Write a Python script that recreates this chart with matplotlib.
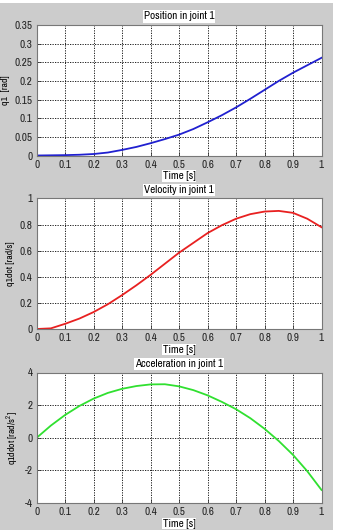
import matplotlib
matplotlib.use("Agg")
import matplotlib.pyplot as plt
from matplotlib.patches import Rectangle

plt.rcParams['font.family'] = ['Archivo Narrow', 'Liberation Sans', 'DejaVu Sans']
plt.rcParams['mathtext.fontset'] = 'custom'
plt.rcParams['mathtext.rm'] = 'Archivo Narrow'

time = [0.0, 0.05, 0.1, 0.15, 0.2, 0.25, 0.3, 0.35, 0.4, 0.45, 0.5,
        0.55, 0.6, 0.65, 0.7, 0.75, 0.8, 0.85, 0.9, 0.95, 1.0]
position = [0.0, 0.0005, 0.001, 0.002, 0.004, 0.008, 0.015, 0.023, 0.033, 0.044, 0.056,
            0.071, 0.089, 0.108, 0.129, 0.152, 0.176, 0.2, 0.222, 0.242, 0.262]
velocity = [0.0, 0.005, 0.04, 0.08, 0.13, 0.19, 0.26, 0.335, 0.415, 0.5, 0.585,
            0.66, 0.735, 0.795, 0.845, 0.88, 0.9, 0.905, 0.89, 0.845, 0.78]
acceleration = [0.0, 0.75, 1.4, 1.95, 2.4, 2.75, 3.0, 3.17, 3.27, 3.28, 3.15,
                2.92, 2.6, 2.2, 1.75, 1.2, 0.55, -0.2, -1.05, -2.05, -3.2]

titles = ["Position in joint 1", "Velocity in joint 1", "Acceleration in joint 1"]
ylabels = ["q1  [rad]", "q1dot [rad/s]", "q1ddot [rad/s$^{\\mathrm{2}}$]"]
xticks = [0, 0.1, 0.2, 0.3, 0.4, 0.5, 0.6, 0.7, 0.8, 0.9, 1]
xticklabels = ["0", "0.1", "0.2", "0.3", "0.4", "0.5", "0.6", "0.7", "0.8", "0.9", "1"]
yticks_list = [[0, 0.05, 0.1, 0.15, 0.2, 0.25, 0.3, 0.35],
               [0, 0.2, 0.4, 0.6, 0.8, 1],
               [-4, -2, 0, 2, 4]]
yticklabels_list = [["0", "0.05", "0.1", "0.15", "0.2", "0.25", "0.3", "0.35"],
                    ["0", "0.2", "0.4", "0.6", "0.8", "1"],
                    ["-4", "-2", "0", "2", "4"]]
ylims = [(0, 0.35), (0, 1), (-4, 4)]
colors = ["#2020d0", "#e82020", "#30e030"]
series = [position, velocity, acceleration]

W, H = 338, 532
fig = plt.figure(figsize=(W / 100, H / 100), dpi=100, facecolor="white")
fig.patches.append(Rectangle((0, 2 / H), 333 / W, 527 / H, transform=fig.transFigure,
                             facecolor="#cccccc", edgecolor="none", zorder=-10))

left, right = 36.7, 321.5
boxes = [(25, 155.5), (198.5, 329), (372.5, 503)]

for i in range(3):
    top, bot = boxes[i]
    ax = fig.add_axes([left / W, 1 - bot / H, (right - left) / W, (bot - top) / H])
    ax.set_facecolor("white")
    ax.plot(time, series[i], color=colors[i], lw=1.3)
    ax.set_xlim(0, 1)
    ax.set_ylim(*ylims[i])
    ax.set_xticks(xticks)
    ax.set_xticklabels(xticklabels)
    ax.set_yticks(yticks_list[i])
    ax.set_yticklabels(yticklabels_list[i])
    ax.grid(True, color="black", linestyle=(0, (1.5, 1.5)), linewidth=0.6)
    ax.tick_params(direction="in", length=3, width=0.6, labelsize=8,
                   colors="#333333", labelcolor="#222222")
    ax.tick_params(axis="x", pad=3)
    ax.tick_params(axis="y", pad=3)
    for s in ax.spines.values():
        s.set_color("#777777")
        s.set_linewidth(0.8)
    ax.set_xlabel("Time [s]", fontsize=8, labelpad=1,
                  bbox=dict(facecolor="white", edgecolor="none", pad=0.5))
    ax.set_ylabel(ylabels[i], fontsize=7, labelpad=3)
    ax.set_title(titles[i], fontsize=8, pad=4,
                 bbox=dict(facecolor="white", edgecolor="none", pad=0.8))

fig.savefig("out.png", dpi=100, facecolor="white")
